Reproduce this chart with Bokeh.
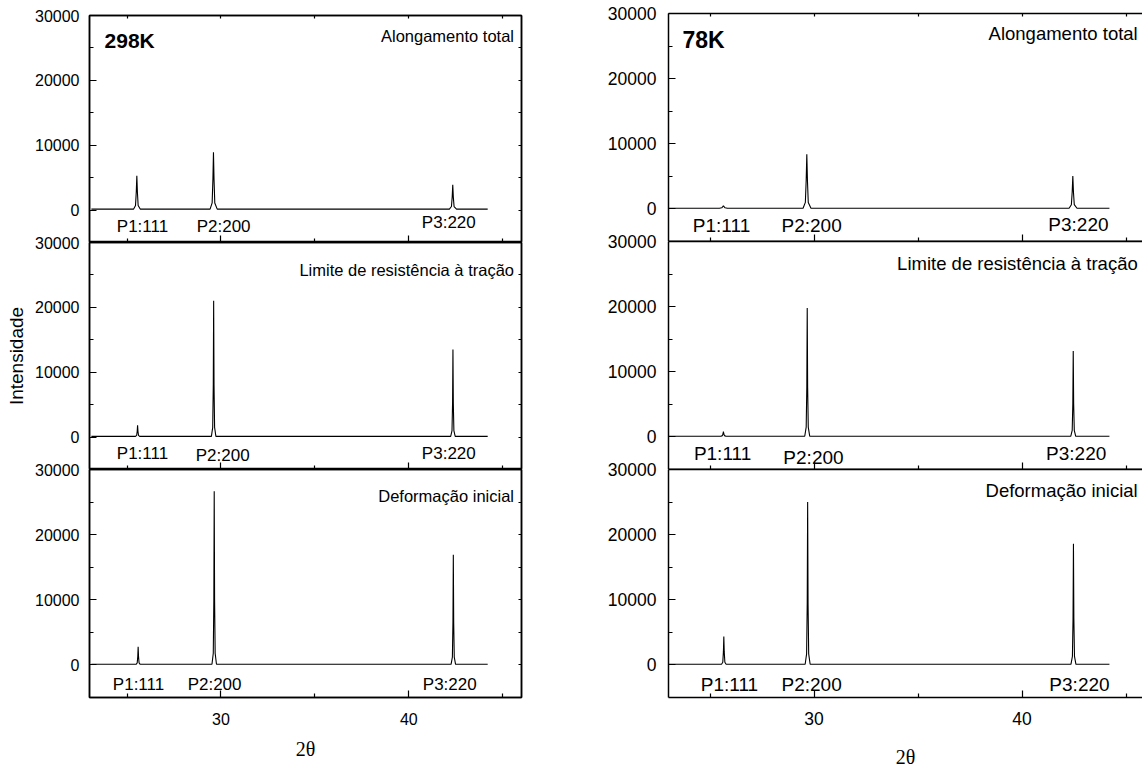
from bokeh.plotting import figure
from bokeh.models import Range1d, FixedTicker, LinearAxis, Label, ColumnDataSource
from bokeh.layouts import row, column
from bokeh.core.properties import value
from bokeh.embed import file_html
from bokeh.resources import INLINE

# ---------------- data (2theta, intensity) ----------------
# 298 K column
x_298_total = [23.1, 25.35, 25.45, 25.49, 25.52, 25.55, 25.59, 25.70, 29.42, 29.53, 29.57, 29.60, 29.63, 29.67, 29.80,
               42.16, 42.27, 42.31, 42.34, 42.37, 42.41, 42.54, 44.2]
y_298_total = [150, 150, 700, 2800, 5300, 2800, 700, 150, 150, 1100, 4700, 8900, 4700, 1100, 150,
               150, 550, 2000, 3900, 2000, 550, 150, 150]

x_298_limite = [23.1, 25.45, 25.51, 25.54, 25.56, 25.58, 25.61, 25.67, 29.49, 29.56, 29.59, 29.61, 29.63, 29.66, 29.73,
                42.23, 42.30, 42.33, 42.35, 42.37, 42.40, 42.47, 44.2]
y_298_limite = [100, 100, 250, 900, 1800, 900, 250, 100, 100, 1500, 8000, 21000, 8000, 1500, 100,
                100, 1000, 5200, 13500, 5200, 1000, 100, 100]

x_298_inicial = [23.1, 25.48, 25.54, 25.57, 25.59, 25.61, 25.64, 25.70, 29.52, 29.59, 29.62, 29.64, 29.66, 29.69, 29.76,
                 42.25, 42.32, 42.35, 42.37, 42.39, 42.42, 42.49, 44.2]
y_298_inicial = [100, 100, 300, 1300, 2770, 1300, 300, 100, 100, 1800, 10000, 26650, 10000, 1800, 100,
                 100, 1200, 6500, 16900, 6500, 1200, 100, 100]

# 78 K column
x_78_total = [23.0, 25.45, 25.56, 25.61, 25.64, 25.67, 25.72, 25.83, 29.47, 29.58, 29.62, 29.65, 29.68, 29.72, 29.85,
              42.26, 42.37, 42.41, 42.44, 42.47, 42.51, 42.64, 44.2]
y_78_total = [100, 100, 180, 350, 500, 350, 180, 100, 100, 1000, 4400, 8400, 4400, 1000, 100,
              100, 650, 2600, 5060, 2600, 650, 100, 100]

x_78_limite = [23.0, 25.52, 25.59, 25.62, 25.64, 25.66, 25.69, 25.76, 29.55, 29.62, 29.65, 29.67, 29.69, 29.72, 29.79,
               42.34, 42.41, 42.44, 42.46, 42.48, 42.51, 42.58, 44.2]
y_78_limite = [100, 100, 200, 450, 800, 450, 200, 100, 100, 1500, 7600, 19800, 7600, 1500, 100,
               100, 1000, 5100, 13200, 5100, 1000, 100, 100]

x_78_inicial = [23.0, 25.55, 25.61, 25.64, 25.66, 25.68, 25.71, 25.77, 29.57, 29.64, 29.67, 29.69, 29.71, 29.74, 29.81,
                42.35, 42.42, 42.45, 42.47, 42.49, 42.52, 42.59, 44.2]
y_78_inicial = [100, 100, 400, 2000, 4350, 2000, 400, 100, 100, 1700, 9500, 25000, 9500, 1700, 100,
                100, 1300, 7100, 18600, 7100, 1300, 100, 100]

peak_labels = ["P1:111", "P2:200", "P3:220"]
panel_titles = ["Alongamento total", "Limite de resistência à tração", "Deformação inicial"]
temperatures = ["298K", "78K"]

# label positions (2theta, intensity) for the peak names
lab_x_298 = [[25.82, 30.14, 42.13], [25.82, 30.09, 42.13], [25.61, 29.66, 42.18]]
lab_y_298 = [[-2500, -2500, -1900], [-2500, -2800, -2500], [-3000, -3000, -3000]]
lab_x_78 = [[25.55, 29.88, 42.71], [25.60, 29.97, 42.60], [25.93, 29.88, 42.76]]
lab_y_78 = [[-2500, -2500, -2350], [-2550, -3150, -2550], [-3000, -3000, -3000]]

title_y_298 = [26900, 25800, 26000]
title_y_78 = [26900, 26600, 26800]

y_ticks = [0, 10000, 20000, 30000]
y_minor = [5000, 15000, 25000]
y_all = [0, 5000, 10000, 15000, 20000, 25000, 30000]
x_ticks = [30, 40]
x_minor = [25, 35, 45]
x_all = [25, 30, 35, 40, 45]

FONT = "Liberation Sans"
SERIF = "Liberation Serif"
OVERLAP = 12  # px of transparent border that lets a panel's top tick label overlap the panel above


def style_axis(ax, tick_in, minor_in, font_size, standoff):
    ax.axis_line_color = "black"
    ax.axis_line_width = 1.5
    ax.major_tick_line_color = "black"
    ax.major_tick_line_width = 1.2
    ax.minor_tick_line_color = "black"
    ax.minor_tick_line_width = 1.2
    ax.major_tick_in = tick_in
    ax.major_tick_out = 0
    ax.minor_tick_in = minor_in
    ax.minor_tick_out = 0
    ax.major_label_text_font = FONT
    ax.major_label_text_font_size = font_size
    ax.major_label_text_color = "black"
    ax.major_label_standoff = standoff


def tick_only_axis(minor_ticks, length):
    # axis drawing only (label-free) minor ticks
    ax = LinearAxis(ticker=FixedTicker(ticks=[], minor_ticks=minor_ticks))
    style_axis(ax, 0, length, "12px", 0)
    return ax


def make_panel(cfg, idx, xs, ys, lab_x, lab_y, title_y):
    borders = cfg["borders"][idx]
    top = borders[0] + (OVERLAP if idx > 0 else 0)
    p = figure(width=cfg["width"], height=top + borders[1] + borders[2],
               x_range=Range1d(23, cfg["xmax"]), y_range=Range1d(-5000, 30000),
               output_backend="svg", toolbar_location=None,
               x_axis_location=("below" if idx == 2 else None))
    p.min_border = 0
    p.min_border_left = cfg["left"]
    p.min_border_right = cfg["right"]
    p.min_border_top = top
    p.min_border_bottom = borders[2]
    if idx > 0:
        p.margin = (-OVERLAP, 0, 0, 0)
    p.xgrid.visible = False
    p.ygrid.visible = False
    if cfg["outline"]:
        p.outline_line_color = "black"
        p.outline_line_width = 1.5
    else:
        p.outline_line_color = None
    p.background_fill_color = "white"
    p.background_fill_alpha = 0.0
    p.border_fill_color = "white"
    p.border_fill_alpha = 0.0

    # axes
    ya = p.yaxis[0]
    ya.ticker = FixedTicker(ticks=y_ticks, minor_ticks=y_minor)
    style_axis(ya, 7, 4, cfg["tick_font"], cfg["ystandoff"])
    if idx == 2:
        xa = p.xaxis[0]
        xa.ticker = FixedTicker(ticks=x_ticks, minor_ticks=x_minor)
        style_axis(xa, 7, 4, cfg["tick_font"], cfg["xstandoff"])
        xa.axis_label = "2θ"
        xa.axis_label_text_font = SERIF
        xa.axis_label_text_font_size = "20px"
        xa.axis_label_text_font_style = "normal"
        xa.axis_label_text_color = "black"
        xa.axis_label_standoff = cfg["xlabel_standoff"]
    else:
        p.add_layout(tick_only_axis(x_ticks, 7), "below")
        p.add_layout(tick_only_axis(x_minor, 4), "below")
    if idx == 0:
        p.add_layout(tick_only_axis(x_all, 3), "above")
    else:
        p.add_layout(tick_only_axis([], 0), "above")
    if cfg["ylabel"] and idx == 1:
        ya.axis_label = "Intensidade"
        ya.axis_label_text_font = FONT
        ya.axis_label_text_font_size = "19px"
        ya.axis_label_text_font_style = "normal"
        ya.axis_label_text_color = "black"
        ya.axis_label_standoff = 5

    if cfg["outline"]:
        p.add_layout(tick_only_axis(y_all, 3), "right")

    # data
    p.line(xs, ys, line_color="black", line_width=1.1)

    src = ColumnDataSource(dict(x=lab_x, y=lab_y, t=peak_labels))
    p.text(x="x", y="y", text="t", source=src, text_font=value(FONT),
           text_font_size=cfg["peak_font"], text_align="center", text_baseline="middle",
           text_color="black")

    p.add_layout(Label(x=cfg["title_x"], y=title_y, text=panel_titles[idx], text_font=FONT,
                       text_font_size=cfg["title_font"], text_align="right", text_baseline="middle",
                       text_color="black"))
    if idx == 0:
        p.add_layout(Label(x=cfg["temp_x"], y=cfg["temp_y"], text=cfg["temp"], text_font=FONT,
                           text_font_size=cfg["temp_font"], text_font_style="bold",
                           text_align="left", text_baseline="middle", text_color="black"))
    return p


cfg_298 = dict(width=600, left=89, right=79, xmax=46.0, borders=[(15, 227, 0), (0, 227, 0), (0, 228, 74)],
               tick_font="16px", ystandoff=10, xstandoff=15, peak_font="17px", title_font="16.5px", title_x=45.6,
               temp="298K", temp_x=23.8, temp_y=26150, temp_font="21px", ylabel=True, xlabel_standoff=10,
               outline=True)
cfg_78 = dict(width=542, left=68, right=0, xmax=45.79, borders=[(13, 228, 0), (0, 228, 0), (0, 228, 74)],
              tick_font="17.5px", ystandoff=12, xstandoff=14, peak_font="19px", title_font="18.5px", title_x=45.56,
              temp="78K", temp_x=23.67, temp_y=26000, temp_font="23px", ylabel=False, xlabel_standoff=18,
              outline=False)

data_298 = [(x_298_total, y_298_total), (x_298_limite, y_298_limite), (x_298_inicial, y_298_inicial)]
data_78 = [(x_78_total, y_78_total), (x_78_limite, y_78_limite), (x_78_inicial, y_78_inicial)]

left_col = column([make_panel(cfg_298, i, data_298[i][0], data_298[i][1], lab_x_298[i], lab_y_298[i], title_y_298[i])
                   for i in range(3)], spacing=0)
right_col = column([make_panel(cfg_78, i, data_78[i][0], data_78[i][1], lab_x_78[i], lab_y_78[i], title_y_78[i])
                    for i in range(3)], spacing=0)

layout = row(left_col, right_col, spacing=0)

open("out.html", "w").write(file_html(layout, INLINE))
